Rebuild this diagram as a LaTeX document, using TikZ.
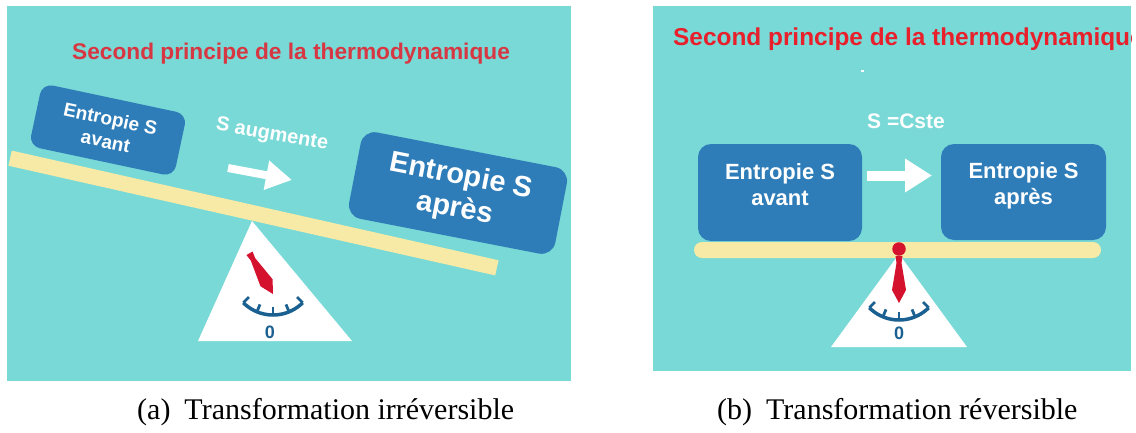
\documentclass[tikz,border=0pt]{standalone}
\usepackage{fontspec}
\setmainfont{Liberation Serif}
\newfontfamily\diagfont{Liberation Sans}
\usetikzlibrary{arrows.meta}

\definecolor{panelteal}{RGB}{121,217,214}
\definecolor{boxblue}{RGB}{46,125,184}
\definecolor{beamyellow}{RGB}{246,234,166}
\definecolor{titleredA}{RGB}{215,55,66}
\definecolor{titleredB}{RGB}{232,32,44}
\definecolor{needlered}{RGB}{212,18,46}
\definecolor{dialblue}{RGB}{26,96,144}

\begin{document}
\begin{tikzpicture}[x=1pt,y=-1pt,
  panel/.style={fill=panelteal,draw=none},
  headline/.style={font=\diagfont\bfseries\fontsize{#1}{#1}\selectfont,inner sep=0,anchor=base west},
  beam/.style={fill=beamyellow,draw=none,inner sep=0},
  ebox/.style={fill=boxblue,draw=none,inner sep=0,text=white,align=center},
  wlabel/.style={text=white,inner sep=0,align=center,font=\diagfont\bfseries\fontsize{#1}{#1}\selectfont},
  fatarrow/.style={draw=white,line width=#1},
  zero/.style={text=dialblue,inner sep=0,font=\diagfont\bfseries\fontsize{18}{18}\selectfont},
  caption/.style={inner sep=0,anchor=base west,font=\fontsize{30}{30}\selectfont},
  % red pointer, tip at the origin, body pointing up
  needle/.pic={\fill[needlered] (-3.5,-47) -- (3.5,-47) -- (2.5,-40) -- (7,-13) -- (0,0)
      -- (-7,-13) -- (-2.5,-40) -- cycle;},
  % graduated scale below the pointer, centre of the arc at the origin
  dial/.pic={\draw[dialblue,line width=3.5pt] plot[smooth,domain=45:135,samples=25]
      ({42*cos(\x)},{42*sin(\x)});
    \foreach \a in {45,67.5,90,112.5,135}
      \draw[dialblue,line width=2.8pt] (\a:42) -- (\a:34);}
]
\fill[white] (0,0) rectangle (1136,432);
\useasboundingbox (0,0) rectangle (1136,432);

% ---------- (a) irreversible: tilted balance ----------
\fill[panel] (7,6) rectangle (571,381);
\node[headline=22.7,text=titleredA] (titleA) at (72,59) {Second principe de la thermodynamique};

\fill[white] (252,221) -- (198,341) -- (352,341) -- cycle;
\pic at (273,273) {dial};
\node[zero] (zeroA) at (270,332) {0};
\pic[rotate=30] at (273,294) {needle};

\node[beam,rotate=-12.7,minimum width=499pt,minimum height=15.5pt] (beamA) at (253.5,213) {};

\node[ebox,rotate=-12,minimum width=148pt,minimum height=64pt,rounded corners=11pt,
      font=\diagfont\bfseries\fontsize{19}{23}\selectfont] (avantA) at (108,130) {Entropie S\\avant};
\node[ebox,rotate=-11,minimum width=210pt,minimum height=88pt,rounded corners=14pt,
      font=\diagfont\bfseries\fontsize{29}{33}\selectfont] (apresA) at (458,193) {Entropie S\\après};

\node[wlabel=20,rotate=-10] (augA) at (272,135) {S augmente};
\coordinate (arrAs) at (228,168);
\coordinate (arrAe) at (292,180);
\draw[fatarrow=8pt,-{Triangle[width=28pt,length=26pt]}] (arrAs) -- (arrAe);

% ---------- (b) reversible: level balance ----------
\fill[panel] (653,6) rectangle (1131,371);
\begin{scope}
  \clip (653,6) rectangle (1131,371);
  \node[headline=24.4,text=titleredB] (titleB) at (673,45) {Second principe de la thermodynamique};
\end{scope}
\fill[white] (860.5,70) rectangle (863.5,72);
\node[wlabel=21] (csteB) at (906,121) {S =Cste};

\fill[white] (899,254) -- (831,347) -- (967,347) -- cycle;
\pic at (899,278) {dial};
\node[zero] (zeroB) at (899,333.5) {0};

\node[beam,rounded corners=8pt,minimum width=407pt,minimum height=16pt] (beamB) at (897.5,250) {};

\node[ebox,minimum width=164pt,minimum height=97pt,rounded corners=13pt] (avantB) at (780,192.5) {};
\node[ebox,minimum width=165pt,minimum height=96pt,rounded corners=13pt] (apresB) at (1023.5,192) {};
\node[wlabel=22,font=\diagfont\bfseries\fontsize{22}{26}\selectfont] (avantBt) at (780,185) {Entropie S\\avant};
\node[wlabel=22,font=\diagfont\bfseries\fontsize{22}{26}\selectfont] (apresBt) at (1023.5,186) {Entropie S\\après};

\coordinate (arrBs) at (867,175.5);
\coordinate (arrBe) at (932,175.5);
\draw[fatarrow=10pt,-{Triangle[width=32pt,length=27pt]}] (arrBs) -- (arrBe);

\pic at (899,303) {needle};
\node[circle,fill=needlered,inner sep=0,minimum size=13.5pt] (pivotB) at (899,249) {};

% ---------- captions ----------
\node[caption] (capA) at (137,419) {(a)\hspace{14pt}Transformation irréversible};
\node[caption] (capB) at (717,419) {(b)\hspace{14pt}Transformation réversible};
\end{tikzpicture}
\end{document}
